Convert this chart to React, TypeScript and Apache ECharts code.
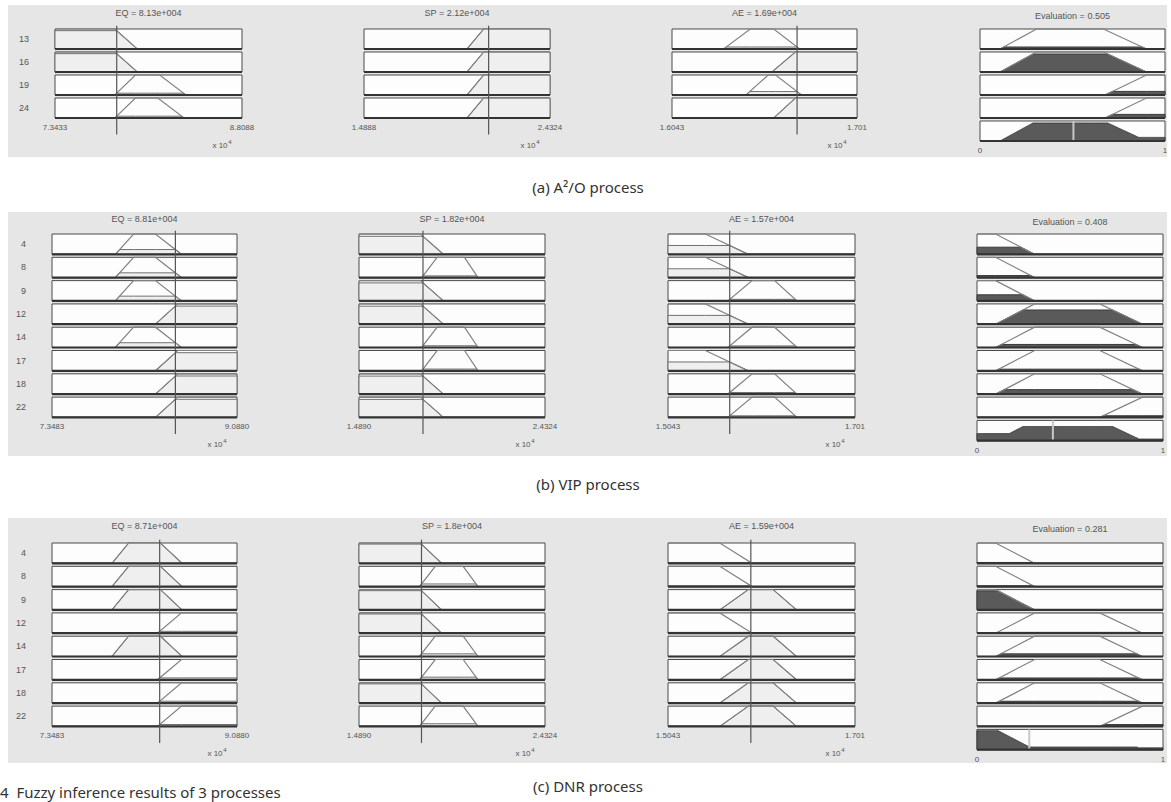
import React, { useEffect, useRef } from 'react';
import * as echarts from 'echarts';

// ---------------- data (positions along each axis as a fraction of its range) ----------------
const rulesA = ['13', '16', '19', '24'];
const rulesB = ['4', '8', '9', '12', '14', '17', '18', '22'];
const rulesC = ['4', '8', '9', '12', '14', '17', '18', '22'];

const titlesA = ['EQ = 8.13e+004', 'SP = 2.12e+004', 'AE = 1.69e+004', 'Evaluation = 0.505'];
const titlesB = ['EQ = 8.81e+004', 'SP = 1.82e+004', 'AE = 1.57e+004', 'Evaluation = 0.408'];
const titlesC = ['EQ = 8.71e+004', 'SP = 1.8e+004', 'AE = 1.59e+004', 'Evaluation = 0.281'];

const ticksA = [['7.3433', '8.8088'], ['1.4888', '2.4324'], ['1.6043', '1.701'], ['0', '1']];
const ticksB = [['7.3483', '9.0880'], ['1.4890', '2.4324'], ['1.5043', '1.701'], ['0', '1']];
const ticksC = [['7.3483', '9.0880'], ['1.4890', '2.4324'], ['1.5043', '1.701'], ['0', '1']];

// input values (EQ, SP, AE)
const inputsA = [0.33, 0.67, 0.676];
const inputsB = [0.667, 0.344, 0.33];
const inputsC = [0.582, 0.336, 0.443];

// membership functions [a, b, c, d] per rule
const eqMfA = [[-1, -0.5, 0.32, 0.44], [-1, -0.5, 0.32, 0.44], [0.32, 0.43, 0.56, 0.7], [0.32, 0.43, 0.55, 0.69]];
const spMfA = [[0.554, 0.643, 1.5, 2], [0.554, 0.643, 1.5, 2], [0.554, 0.643, 1.5, 2], [0.554, 0.643, 1.5, 2]];
const aeMfA = [[0.279, 0.423, 0.55, 0.69], [0.54, 0.667, 1.5, 2], [0.4, 0.52, 0.56, 0.7], [0.55, 0.667, 1.5, 2]];
const outMfA = [[0.108, 0.306, 0.667, 0.9], [0.108, 0.306, 0.667, 0.9], [0.676, 0.9, 1.5, 2], [0.676, 0.9, 1.5, 2]];
const strengthA = [0.1, 0.9, 0.18, 0.18];
const defuzzA = 0.505;

const eqMfB = [
  [0.342, 0.441, 0.559, 0.7], [0.342, 0.441, 0.559, 0.7], [0.342, 0.441, 0.559, 0.7], [0.559, 0.68, 1.5, 2],
  [0.342, 0.441, 0.559, 0.7], [0.559, 0.68, 1.5, 2], [0.559, 0.68, 1.5, 2], [0.559, 0.68, 1.5, 2],
];
const spMfB = [
  [-1, -0.5, 0.33, 0.454], [0.337, 0.42, 0.567, 0.64], [-1, -0.5, 0.33, 0.454], [-1, -0.5, 0.33, 0.454],
  [0.337, 0.42, 0.567, 0.64], [0.337, 0.42, 0.567, 0.64], [-1, -0.5, 0.33, 0.454], [-1, -0.5, 0.33, 0.454],
];
const aeMfB = [
  [-1, -0.5, 0.2, 0.43], [-1, -0.5, 0.2, 0.43], [0.32, 0.45, 0.57, 0.69], [-1, -0.5, 0.2, 0.43],
  [0.32, 0.45, 0.57, 0.69], [-1, -0.5, 0.2, 0.43], [0.32, 0.45, 0.57, 0.69], [0.32, 0.45, 0.57, 0.69],
];
const outMfB = [
  [-1, -0.5, 0.1, 0.31], [-1, -0.5, 0.1, 0.31], [-1, -0.5, 0.1, 0.31], [0.1, 0.31, 0.66, 0.89],
  [0.1, 0.31, 0.66, 0.89], [0.1, 0.31, 0.66, 0.89], [0.1, 0.31, 0.66, 0.89], [0.66, 0.89, 1.5, 2],
];
const strengthB = [0.35, 0.1, 0.3, 0.7, 0.15, 0.08, 0.22, 0.08];
const defuzzB = 0.408;

const eqMfC = [
  [0.324, 0.414, 0.586, 0.703], [0.324, 0.414, 0.586, 0.703], [0.324, 0.414, 0.586, 0.703], [0.57, 0.7, 1.5, 2],
  [0.324, 0.414, 0.586, 0.703], [0.57, 0.7, 1.5, 2], [0.57, 0.7, 1.5, 2], [0.57, 0.7, 1.5, 2],
];
const spMfC = [
  [-1, -0.5, 0.33, 0.444], [0.325, 0.41, 0.56, 0.64], [-1, -0.5, 0.33, 0.444], [-1, -0.5, 0.33, 0.444],
  [0.325, 0.41, 0.56, 0.64], [0.325, 0.41, 0.56, 0.64], [-1, -0.5, 0.33, 0.444], [0.325, 0.41, 0.56, 0.64],
];
const aeMfC = [
  [-1, -0.5, 0.277, 0.45], [-1, -0.5, 0.277, 0.45], [0.277, 0.43, 0.562, 0.6875], [-1, -0.5, 0.277, 0.45],
  [0.277, 0.43, 0.562, 0.6875], [0.277, 0.43, 0.562, 0.6875], [0.277, 0.43, 0.562, 0.6875], [0.277, 0.43, 0.562, 0.6875],
];
const outMfC = [
  [-1, -0.5, 0.1, 0.31], [-1, -0.5, 0.1, 0.31], [-1, -0.5, 0.1, 0.31], [0.1, 0.31, 0.66, 0.89],
  [0.1, 0.31, 0.66, 0.89], [0.1, 0.31, 0.66, 0.89], [0.1, 0.31, 0.66, 0.89], [0.66, 0.89, 1.5, 2],
];
const strengthC = [0.04, 0.04, 0.94, 0.04, 0.13, 0.09, 0.09, 0.09];
const defuzzC = 0.281;

const captions = ['(a) A\u00B2/O process', '(b) VIP process', '(c) DNR process'];
const figCaption = '4  Fuzzy inference results of 3 processes';

// ---------------- layout ----------------
const PANELS = [
  { rules: rulesA, titles: titlesA, ticks: ticksA, inputs: inputsA, mfs: [eqMfA, spMfA, aeMfA], outMf: outMfA, strength: strengthA, defuzz: defuzzA },
  { rules: rulesB, titles: titlesB, ticks: ticksB, inputs: inputsB, mfs: [eqMfB, spMfB, aeMfB], outMf: outMfB, strength: strengthB, defuzz: defuzzB },
  { rules: rulesC, titles: titlesC, ticks: ticksC, inputs: inputsC, mfs: [eqMfC, spMfC, aeMfC], outMf: outMfC, strength: strengthC, defuzz: defuzzC },
];
const LAYOUTS = [
  { cols: [[55, 242], [364, 550], [672, 857], [980, 1165]], top: 27.5, pitch: 23, titleY: 13, bg: [5, 157], labelMargin: 26, capY: 187 },
  { cols: [[52, 237], [359, 545], [668, 855], [977, 1163]], top: 232.5, pitch: 23.3, titleY: 219, bg: [212, 456], labelMargin: 26, capY: 484 },
  { cols: [[52, 237], [359, 545], [668, 855], [977, 1163]], top: 541.5, pitch: 23.3, titleY: 526, bg: [518, 763], labelMargin: 26, capY: 786 },
];
const BOX_PAD = 0.065;
const FONT = '"Liberation Sans", Arial, sans-serif';

function trap(x: number, p: number[]) {
  const [a, b, c, d] = p;
  const up = b > a ? (x - a) / (b - a) : 1;
  const dn = d > c ? (d - x) / (d - c) : 1;
  return Math.max(0, Math.min(up, 1, dn));
}
function breaks(p: number[], h: number) {
  const [a, b, c, d] = p;
  return [0, a, a + h * (b - a), b, c, d - h * (d - c), d, 1]
    .filter((x) => x >= 0 && x <= 1)
    .sort((u, v) => u - v);
}

function boxChildren(api: any, i: number) {
  const top = i + BOX_PAD;
  const bot = i + 1 - BOX_PAD;
  const tl = api.coord([0, top]);
  const br = api.coord([1, bot]);
  return {
    top,
    bot,
    tl,
    br,
    rect: {
      type: 'rect',
      shape: { x: tl[0], y: tl[1], width: br[0] - tl[0], height: br[1] - tl[1] },
      style: { fill: '#fdfdfd', stroke: '#4a4a4a', lineWidth: 1 },
    },
    bottom: {
      type: 'line',
      shape: { x1: tl[0], y1: br[1], x2: br[0], y2: br[1] },
      style: { stroke: '#333', lineWidth: 2.2 },
    },
  };
}

function ruleRow(api: any, i: number, mf: number[], h: number, fillColor: string, edge: string) {
  const B = boxChildren(api, i);
  const P = (x: number, m: number) => api.coord([x, B.bot - m * (B.bot - B.top)]);
  const children: any[] = [B.rect];
  if (h > 0.001) {
    const xs = breaks(mf, h);
    const pts = [P(0, 0), ...xs.map((x) => P(x, Math.min(trap(x, mf), h))), P(1, 0)];
    children.push({ type: 'polygon', shape: { points: pts }, style: { fill: fillColor, stroke: edge, lineWidth: 1 } });
  }
  const lx = breaks(mf, 1);
  children.push({
    type: 'polyline',
    shape: { points: lx.map((x) => P(x, trap(x, mf))) },
    style: { stroke: '#808080', lineWidth: 1.2, fill: 'none' },
  });
  children.push(B.bottom);
  return { type: 'group', children };
}

function buildOption() {
  const grid: any[] = [];
  const xAxis: any[] = [];
  const yAxis: any[] = [];
  const series: any[] = [];
  const graphic: any[] = [];

  PANELS.forEach((P, pi) => {
    const L = LAYOUTS[pi];
    graphic.push({
      type: 'rect',
      z: -10,
      silent: true,
      shape: { x: 8, y: L.bg[0], width: 1159, height: L.bg[1] - L.bg[0] },
      style: { fill: '#e6e6e6' },
    });
    graphic.push({
      type: 'text',
      x: 588,
      y: L.capY,
      style: {
        text: captions[pi],
        fontSize: 15,
        fontFamily: '"Noto Sans", sans-serif',
        fill: '#333',
        textAlign: 'center',
        textVerticalAlign: 'middle',
      },
    });
    const n = P.rules.length;
    for (let k = 0; k < 4; k++) {
      const isOut = k === 3;
      const rows = isOut ? n + 1 : n;
      const [x0, x1] = L.cols[k];
      const gi = grid.length;
      const gh = rows * L.pitch;
      grid.push({ left: x0, top: L.top, width: x1 - x0, height: gh });
      const tk = P.ticks[k];
      xAxis.push({
        type: 'value',
        gridIndex: gi,
        min: 0,
        max: 1,
        interval: 1,
        axisLine: { show: false },
        axisTick: { show: false },
        splitLine: { show: false },
        axisLabel: {
          margin: 4,
          fontSize: 8,
          color: '#555',
          fontFamily: FONT,
          formatter: (v: number) => (v < 0.5 ? tk[0] : tk[1]),
        },
      });
      const yi = yAxis.length;
      yAxis.push({ type: 'value', gridIndex: gi, min: 0, max: rows, inverse: true, show: false, position: 'right' });
      if (k === 0) {
        yAxis.push({
          type: 'category',
          gridIndex: gi,
          position: 'left',
          data: P.rules,
          inverse: true,
          axisLine: { show: false },
          axisTick: { show: false },
          splitLine: { show: false },
          axisLabel: { margin: L.labelMargin, fontSize: 9, color: '#555', fontFamily: FONT },
        });
      }
      graphic.push({
        type: 'text',
        x: (x0 + x1) / 2,
        y: L.titleY + (isOut ? 3 : 0),
        style: {
          text: P.titles[k],
          fontSize: 9,
          fontFamily: FONT,
          fill: '#555',
          textAlign: 'center',
          textVerticalAlign: 'middle',
        },
      });
      if (!isOut) {
        const mfs = P.mfs[k];
        const input = P.inputs[k];
        series.push({
          type: 'custom',
          xAxisIndex: gi,
          yAxisIndex: yi,
          clip: false,
          silent: true,
          z: 2,
          data: mfs.map((_, i) => [input, i]),
          renderItem: (params: any, api: any) => {
            const i = params.dataIndex;
            const mf = mfs[i];
            return ruleRow(api, i, mf, trap(input, mf), '#efefef', '#707070');
          },
        });
        series.push({
          type: 'custom',
          xAxisIndex: gi,
          yAxisIndex: yi,
          clip: false,
          silent: true,
          z: 3,
          data: [[input, 0]],
          renderItem: (params: any, api: any) => {
            const a = api.coord([input, -0.08]);
            const b = api.coord([input, rows + 0.65]);
            return { type: 'line', shape: { x1: a[0], y1: a[1], x2: b[0], y2: b[1] }, style: { stroke: '#555', lineWidth: 1.2 } };
          },
        });
        const by = L.top + gh + 26;
        graphic.push({
          type: 'text',
          x: x1 - 22,
          y: by,
          style: { text: 'x 10', fontSize: 8, fontFamily: FONT, fill: '#555', textAlign: 'center', textVerticalAlign: 'middle' },
        });
        graphic.push({
          type: 'text',
          x: x1 - 12,
          y: by - 4,
          style: { text: '4', fontSize: 6, fontFamily: FONT, fill: '#555', textAlign: 'center', textVerticalAlign: 'middle' },
        });
      } else {
        const outMf = P.outMf;
        const w = P.strength;
        const dz = P.defuzz;
        series.push({
          type: 'custom',
          xAxisIndex: gi,
          yAxisIndex: yi,
          clip: false,
          silent: true,
          z: 2,
          data: Array.from({ length: rows }, (_, i) => [dz, i]),
          renderItem: (params: any, api: any) => {
            const i = params.dataIndex;
            if (i < n) return ruleRow(api, i, outMf[i], w[i], '#5a5a5a', '#3a3a3a');
            const B = boxChildren(api, i);
            const Pt = (x: number, m: number) => api.coord([x, B.bot - m * (B.bot - B.top)]);
            const pts: any[] = [Pt(0, 0)];
            for (let s = 0; s <= 400; s++) {
              const x = s / 400;
              let m = 0;
              for (let r = 0; r < n; r++) m = Math.max(m, Math.min(trap(x, outMf[r]), w[r]));
              pts.push(Pt(x, m));
            }
            pts.push(Pt(1, 0));
            const d1 = api.coord([dz, B.top]);
            const d2 = api.coord([dz, B.bot]);
            return {
              type: 'group',
              children: [
                B.rect,
                { type: 'polygon', shape: { points: pts }, style: { fill: '#5a5a5a', stroke: '#3a3a3a', lineWidth: 1 } },
                { type: 'line', shape: { x1: d1[0], y1: d1[1], x2: d2[0], y2: d2[1] }, style: { stroke: '#c8c8c8', lineWidth: 2 } },
                B.bottom,
              ],
            };
          },
        });
      }
    }
  });

  graphic.push({
    type: 'text',
    x: 0,
    y: 792,
    style: {
      text: figCaption,
      fontSize: 15,
      fontFamily: '"Noto Sans", sans-serif',
      fill: '#333',
      textAlign: 'left',
      textVerticalAlign: 'middle',
    },
  });

  return {
    animation: false,
    backgroundColor: '#ffffff',
    grid,
    xAxis,
    yAxis,
    series,
    graphic,
  };
}

export default function App() {
  const ref = useRef<HTMLDivElement>(null);
  useEffect(() => {
    const chart = echarts.init(ref.current as HTMLDivElement, null, { renderer: 'svg' });
    chart.setOption(buildOption() as any);
    return () => chart.dispose();
  }, []);
  return <div ref={ref} style={{ position: 'absolute', left: 0, top: 0, width: 1171, height: 802 }} />;
}
